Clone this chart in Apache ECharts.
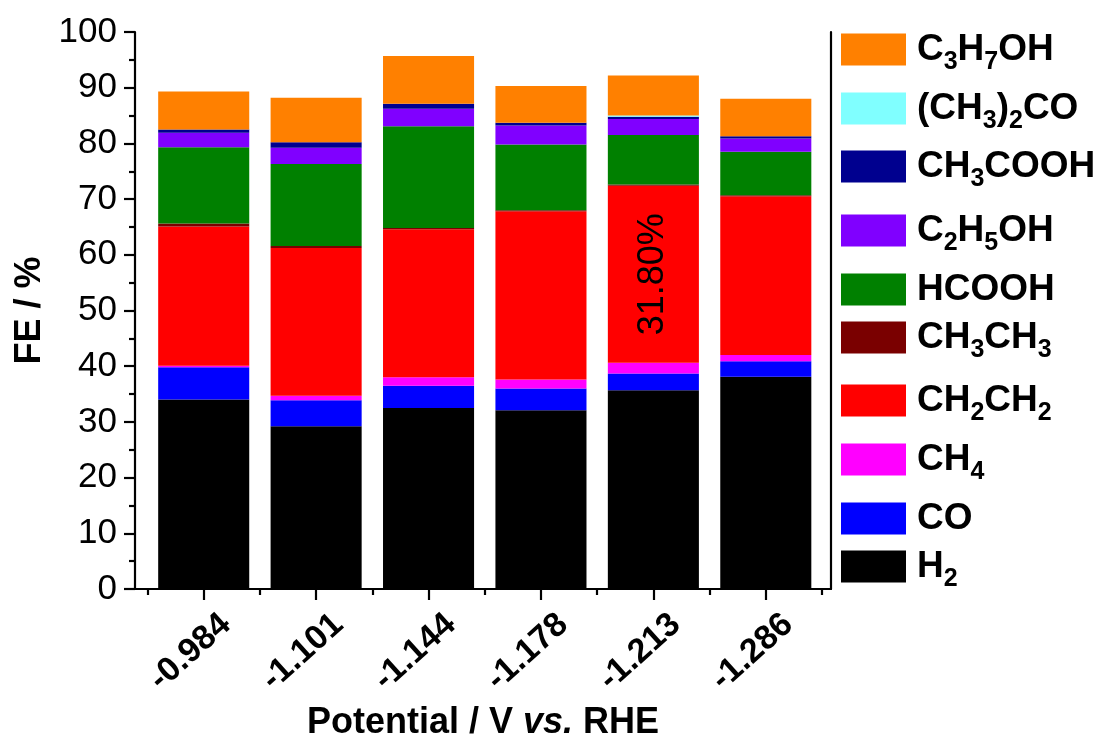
<!DOCTYPE html>
<html>
<head>
<meta charset="utf-8">
<script src="https://cdn.jsdelivr.net/npm/echarts@6/dist/echarts.min.js"></script>
<style>
  html, body { margin: 0; padding: 0; background: #ffffff; }
  #chart { width: 1102px; height: 751px; }
</style>
</head>
<body>
<div id="chart"></div>
<script>
// Applied potentials (V vs. RHE)
const potentials = ['-0.984', '-1.101', '-1.144', '-1.178', '-1.213', '-1.286'];

// Faradaic efficiencies (%) per product, one value per potential
const H2      = [34.0, 29.2, 32.5, 32.1, 35.7, 38.1];
const CO      = [5.8, 4.7, 4.0, 3.9, 3.0, 2.8];
const CH4     = [0.3, 0.8, 1.5, 1.6, 1.9, 1.1];
const CH2CH2  = [25.0, 26.5, 26.6, 30.2, 31.8, 28.5];
const CH3CH3  = [0.5, 0.4, 0.2, 0.2, 0.2, 0.2];
const HCOOH   = [13.7, 14.7, 18.3, 11.8, 8.9, 7.8];
const C2H5OH  = [2.6, 2.9, 3.1, 3.4, 2.9, 2.4];
const CH3COOH = [0.6, 1.0, 0.9, 0.5, 0.4, 0.4];
const ACETONE = [0, 0, 0, 0, 0.2, 0];
const C3H7OH  = [6.8, 8.0, 8.6, 6.6, 7.2, 6.7];

// Product names, bottom of the stack first
const products = ['H2', 'CO', 'CH4', 'CH2CH2', 'CH3CH3', 'HCOOH', 'C2H5OH', 'CH3COOH', '(CH3)2CO', 'C3H7OH'];
const productValues = [H2, CO, CH4, CH2CH2, CH3CH3, HCOOH, C2H5OH, CH3COOH, ACETONE, C3H7OH];

// Bar whose ethylene share is written on it
const annotatedIndex = 4;

// Y axis range and step
const yMin = 0, yMax = 100, yStep = 10;

// ---- styling ----
const productColors = ['#000000', '#0000ff', '#ff00ff', '#ff0000', '#7a0000',
                       '#008000', '#8000ff', '#00008f', '#80ffff', '#ff8000'];
const FONT = '"Liberation Sans", Arial, Helvetica, sans-serif';
const AXIS_W = 2.2;

// legend rows: vertical centres, top entry (last product) first
const legendCentres = [51, 110, 168, 232, 291, 339, 402, 461, 520, 568];
const LEGEND_ROW_H = 54;

function chemRich(name) {
  return '{n|' + name.replace(/(\d+)/g, '}{s|$1}{n|') + '}';
}

const legends = products.slice().reverse().map((name, i) => ({
  data: [name],
  orient: 'vertical',
  left: 841,
  top: legendCentres[i] - LEGEND_ROW_H / 2,
  padding: 0,
  itemWidth: 65,
  itemHeight: 32,
  icon: 'rect',
  selectedMode: false,
  formatter: chemRich,
  textStyle: {
    padding: [0, 0, 0, 6],
    rich: {
      n: { fontFamily: FONT, fontWeight: 'bold', fontSize: 37, color: '#000', lineHeight: 40, padding: [7, 0, 7, 0] },
      s: { fontFamily: FONT, fontWeight: 'bold', fontSize: 25, color: '#000', lineHeight: 28, padding: [26, 0, 0, 0] }
    }
  }
}));

const series = products.map((name, k) => ({
  name: name,
  type: 'bar',
  stack: 'fe',
  xAxisIndex: 0,
  yAxisIndex: 0,
  barWidth: '81%',
  itemStyle: { color: productColors[k] },
  emphasis: { disabled: true },
  data: productValues[k].map((v, i) => (name === 'CH2CH2' && i === annotatedIndex) ? {
    value: v,
    label: {
      show: true,
      position: 'inside',
      rotate: 90,
      formatter: (p) => p.value.toFixed(2) + '%',
      fontFamily: FONT,
      fontSize: 36,
      color: '#000'
    }
  } : v)
}));

const chart = echarts.init(document.getElementById('chart'), null, { renderer: 'canvas' });
chart.setOption({
  backgroundColor: '#ffffff',
  animation: false,
  color: productColors,
  legend: legends,
  grid: [
    // bar area (category bands)
    { left: 147.5, right: 280, top: 32, bottom: 162 },
    // frame with the visible axes
    { left: 135, right: 271, top: 32, bottom: 162 }
  ],
  xAxis: [
    {
      type: 'category', gridIndex: 0, position: 'bottom', data: potentials,
      axisLine: { show: false },
      axisTick: { show: true, length: 6, lineStyle: { color: '#000', width: AXIS_W } },
      axisLabel: {
        show: true, rotate: 42, align: 'center', verticalAlign: 'middle', margin: 51,
        padding: [0, 36, 0, 0],
        fontFamily: FONT, fontWeight: 'bold', fontSize: 34, color: '#000'
      },
      splitLine: { show: false }
    },
    {
      type: 'category', gridIndex: 0, position: 'bottom', offset: 0, data: potentials,
      axisLine: { show: false },
      axisTick: { show: true, alignWithLabel: true, length: 11, lineStyle: { color: '#000', width: AXIS_W } },
      axisLabel: { show: false },
      splitLine: { show: false }
    },
    {
      type: 'value', gridIndex: 1, position: 'bottom', min: 0, max: 1,
      axisLine: { show: true, lineStyle: { color: '#000', width: AXIS_W } },
      axisTick: { show: false },
      axisLabel: { show: false },
      splitLine: { show: false },
      name: '{a|Potential / V }{b|vs.}{a| RHE}',
      nameLocation: 'middle',
      nameGap: 116,
      nameTextStyle: {
        rich: {
          a: { fontFamily: FONT, fontWeight: 'bold', fontSize: 36, color: '#000' },
          b: { fontFamily: FONT, fontWeight: 'bold', fontStyle: 'italic', fontSize: 36, color: '#000' }
        }
      }
    }
  ],
  yAxis: [
    {
      type: 'value', gridIndex: 0, min: yMin, max: yMax, interval: yStep,
      show: false
    },
    {
      type: 'value', gridIndex: 1, min: yMin, max: yMax, interval: yStep, position: 'left',
      axisLine: { show: true, lineStyle: { color: '#000', width: AXIS_W } },
      axisTick: { show: true, length: 11, lineStyle: { color: '#000', width: AXIS_W } },
      minorTick: { show: true, splitNumber: 2, length: 6, lineStyle: { color: '#000', width: AXIS_W } },
      axisLabel: { margin: 18, fontFamily: FONT, fontSize: 35, color: '#000' },
      splitLine: { show: false },
      name: 'FE / %',
      nameLocation: 'middle',
      nameGap: 80,
      nameTextStyle: { fontFamily: FONT, fontWeight: 'bold', fontSize: 36, color: '#000' }
    },
    {
      type: 'value', gridIndex: 1, min: yMin, max: yMax, interval: yStep, position: 'right',
      axisLine: { show: true, lineStyle: { color: '#000', width: AXIS_W } },
      axisTick: { show: false },
      axisLabel: { show: false },
      splitLine: { show: false }
    }
  ],
  series: series
});
</script>
</body>
</html>
